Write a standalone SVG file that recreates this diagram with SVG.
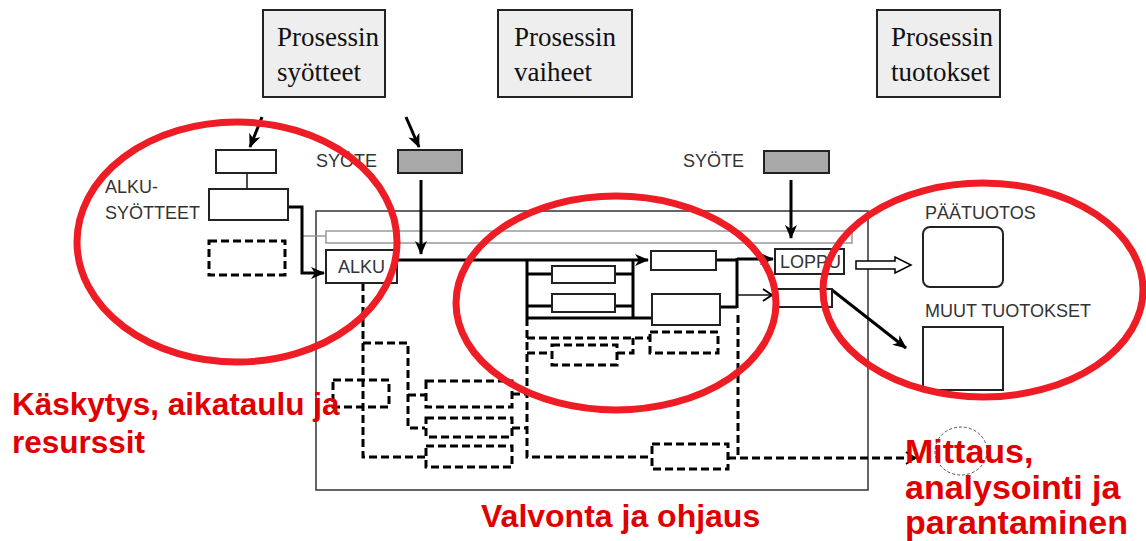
<svg xmlns="http://www.w3.org/2000/svg" width="1146" height="541" viewBox="0 0 1146 541">
<style>
.hdr{fill:#eeeeee;stroke:#222;stroke-width:2}
.ht{font-family:"Liberation Serif",serif;font-size:27px;fill:#111}
.box{fill:#fff;stroke:#222;stroke-width:2}
.gbox{fill:#a8a8a8;stroke:#222;stroke-width:2}
.lbl{font-family:"Liberation Sans",Arial,sans-serif;font-size:18px;fill:#333}
.red{font-family:"Liberation Sans",Arial,sans-serif;font-weight:bold;fill:#e00000}
.ell{fill:none;stroke:#ee1c24;stroke-width:7}
.thick{fill:none;stroke:#000;stroke-width:3}
.thin{fill:none;stroke:#111;stroke-width:1.5}
.dash{fill:none;stroke:#000;stroke-width:3;stroke-dasharray:8 4}
</style>
<defs>
<marker id="ah" markerUnits="userSpaceOnUse" markerWidth="16" markerHeight="14" refX="13" refY="7" orient="auto">
<path d="M0,1 L14,7 L0,13 L4,7 z" fill="#000"/>
</marker>
<marker id="ch" markerUnits="userSpaceOnUse" markerWidth="12" markerHeight="14" refX="10" refY="7" orient="auto">
<path d="M1,1 L10,7 L1,13" fill="none" stroke="#000" stroke-width="2"/>
</marker>
</defs>

<g id="hdr-syotteet"><rect class="hdr" x="263" y="10" width="122" height="87"/><text class="ht" x="277" y="46">Prosessin</text><text class="ht" x="277" y="81">syötteet</text></g>
<g id="hdr-vaiheet"><rect class="hdr" x="498" y="10" width="134" height="87"/><text class="ht" x="514" y="46">Prosessin</text><text class="ht" x="514" y="81">vaiheet</text></g>
<g id="hdr-tuotokset"><rect class="hdr" x="877" y="10" width="123" height="87"/><text class="ht" x="891" y="46">Prosessin</text><text class="ht" x="891" y="81">tuotokset</text></g>

<g id="process-frame"><rect x="316" y="211" width="552" height="279" fill="none" stroke="#333" stroke-width="1.5"/>
<rect x="326" y="231" width="526" height="12" fill="none" stroke="#999" stroke-width="1.5"/>
<path d="M302,236 H326" stroke="#999" stroke-width="1.5"/></g>

<g id="connectors">
<path class="thick" d="M262,117 L250,147" marker-end="url(#ah)"/>
<path class="thick" d="M406,117 L419,147" marker-end="url(#ah)"/>
<path class="thin" stroke-width="2" d="M247,173 V189"/>
<path class="thick" d="M288,207 H302 V273 H324" marker-end="url(#ah)"/>
<path class="thick" d="M421,180 V254" marker-end="url(#ah)"/>
<path class="thick" d="M791,180 V238" marker-end="url(#ah)"/>
<path class="thick" stroke-width="3.5" d="M397,260 H648" marker-end="url(#ah)"/>
<path class="thick" d="M527,260 V318 M527,274 H552 M527,306 H552 M615,274 H633 M615,306 H633 M633,260 V318 M527,318 H652"/>
<path class="thick" d="M716,260 H737 M737,258 V308 M720,307 H737"/>
<path class="thick" stroke-width="3.5" d="M737,259 H773" marker-end="url(#ah)"/>
<path class="thin" d="M737,295 H772" marker-end="url(#ch)"/>
<path class="thick" d="M832,290 L906,348" marker-end="url(#ah)"/>
<path d="M856,261 H895 V257 L911,265 L895,273 V269 H856 Z" fill="#fff" stroke="#000" stroke-width="1.5"/>
<path class="dash" d="M363,283 V457 H425"/>
<path class="dash" d="M363,343 H408 V428 H425"/>
<path class="dash" d="M408,395 H425"/>
<path class="dash" d="M527,318 V457 H652"/>
<path class="dash" d="M527,338 H650"/>
<path class="dash" d="M527,353 H552"/>
<path class="dash" d="M617,353 H633 V338"/>
<path class="dash" d="M738,315 V458"/>
<path class="dash" d="M512,394 H527 M512,428 H527"/>
<path class="dash" d="M728,458 H915" marker-end="url(#ch)"/>
</g>

<g id="small-top"><rect class="box" x="216" y="150" width="60" height="23"/></g>
<g id="alku-syotteet"><rect class="box" x="209" y="189" width="79" height="31"/><text class="lbl" x="105" y="193">ALKU-</text><text class="lbl" x="105" y="219">SYÖTTEET</text></g>
<g id="alku-dashed"><rect class="dash" x="209" y="241" width="76" height="34"/></g>
<g id="syote-1"><text class="lbl" x="316" y="167">SYÖTE</text><rect class="gbox" x="398" y="150" width="64" height="23"/></g>
<g id="syote-2"><text class="lbl" x="683" y="167">SYÖTE</text><rect class="gbox" x="764" y="151" width="65" height="22"/></g>
<g id="alku"><rect class="box" x="326" y="250" width="71" height="33"/><text class="lbl" x="338" y="273">ALKU</text></g>
<g id="a1"><rect class="box" x="552" y="266" width="63" height="17"/></g>
<g id="a2"><rect class="box" x="552" y="294" width="63" height="18"/></g>
<g id="b1"><rect class="box" x="651" y="251" width="65" height="19"/></g>
<g id="b2"><rect class="box" x="652" y="294" width="68" height="31"/></g>
<g id="loppu"><rect class="box" x="775" y="249" width="69" height="25"/><text class="lbl" x="780" y="268" font-size="17">LOPPU</text></g>
<g id="loppu-2"><rect class="box" stroke-width="1.5" x="775" y="289" width="57" height="18"/></g>
<g id="dashed-sub">
<rect class="dash" x="333" y="380" width="56" height="27"/>
<rect class="dash" x="426" y="381" width="86" height="26"/>
<rect class="dash" x="426" y="418" width="86" height="19"/>
<rect class="dash" x="426" y="446" width="86" height="21"/>
<rect class="dash" x="552" y="345" width="65" height="20"/>
<rect class="dash" x="650" y="332" width="68" height="21"/>
<rect class="dash" x="652" y="444" width="76" height="25"/>
</g>
<g id="paatuotos"><text class="lbl" x="925" y="219">PÄÄTUOTOS</text><rect class="box" x="923" y="227" width="80" height="60" rx="7"/></g>
<g id="muut-tuotokset"><text class="lbl" x="925" y="317">MUUT TUOTOKSET</text><rect class="box" x="923" y="327" width="80" height="63"/></g>

<g id="highlights">
<ellipse class="ell" cx="237" cy="242" rx="160" ry="120"/>
<ellipse class="ell" cx="616" cy="303" rx="160" ry="107"/>
<ellipse class="ell" cx="983" cy="290" rx="160" ry="107"/>
<ellipse cx="961" cy="451" rx="26" ry="24" fill="none" stroke="#555" stroke-width="1" stroke-dasharray="3 2"/>
</g>

<g id="notes">
<text class="red" font-size="31.5" x="12" y="415">Käskytys, aikataulu ja</text>
<text class="red" font-size="31.5" x="12" y="453">resurssit</text>
<text class="red" font-size="32" x="481" y="527">Valvonta ja ohjaus</text>
<text class="red" font-size="34" x="905" y="463">Mittaus,</text>
<text class="red" font-size="34" x="905" y="499">analysointi ja</text>
<text class="red" font-size="34" x="905" y="534">parantaminen</text>
</g>
</svg>
